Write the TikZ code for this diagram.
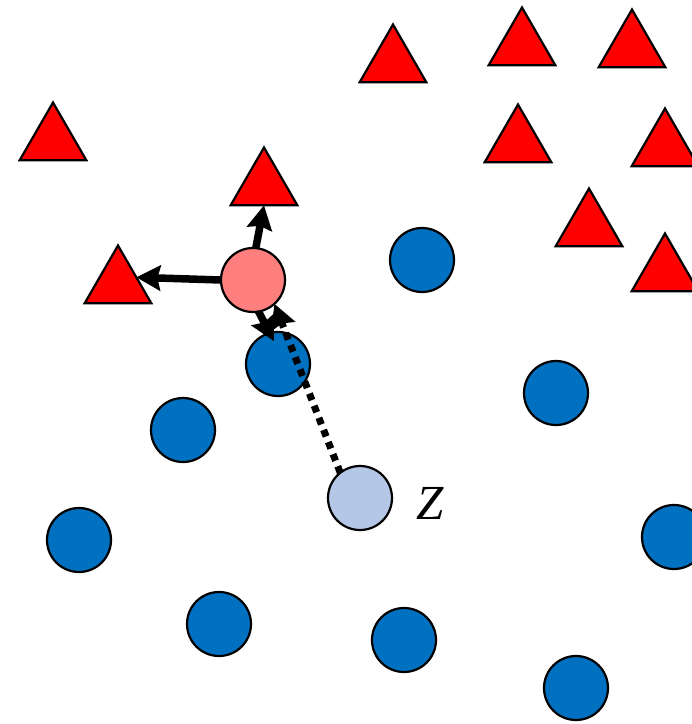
\documentclass[tikz,border=0pt]{standalone}
\usepackage{fontspec}
\newfontfamily\zfont{Liberation Serif}
\usetikzlibrary{shapes.geometric,arrows.meta}
\definecolor{tri}{HTML}{FF0000}
\definecolor{dot}{HTML}{0070C0}
\definecolor{pinkc}{HTML}{FF7F7F}
\definecolor{lightc}{HTML}{B4C7E7}
\begin{document}
\begin{tikzpicture}[x=1pt,y=-1pt,
  trinode/.style={regular polygon,regular polygon sides=3,minimum size=77pt,inner sep=0pt,outer sep=0pt,draw=black,line width=2.2pt,fill=tri},
  dotnode/.style={circle,minimum size=64pt,inner sep=0pt,outer sep=0pt,draw=black,line width=2.2pt,fill=dot},
  arr/.style={line width=7.5pt,-{Stealth[length=24pt,width=25pt,inset=3pt]}},
  dotarr/.style={line width=7pt,dash pattern=on 7pt off 6pt,-{Stealth[length=24pt,width=25pt,inset=3pt]}}]
\useasboundingbox (0,0) rectangle (692,724);
\clip (0,0) rectangle (692,724);
% triangles
\node[trinode] (t1) at (393,63) {};
\node[trinode] (t2) at (522,46) {};
\node[trinode] (t3) at (632,48) {};
\node[trinode] (t4) at (53,141) {};
\node[trinode] (t5) at (518,143) {};
\node[trinode] (t6) at (665,147) {};
\node[trinode] (t7) at (264,186) {};
\node[trinode] (t8) at (589,227) {};
\node[trinode] (t9) at (665,272) {};
\node[trinode] (t10) at (118,284) {};
% circles
\node[dotnode] (b1) at (278,364) {};
\node[dotnode] (b2) at (183,430) {};
\node[dotnode] (b3) at (422,260) {};
\node[dotnode] (b4) at (556,393) {};
\node[dotnode] (b5) at (79,540) {};
\node[dotnode] (b6) at (219,624) {};
\node[dotnode] (b7) at (404,640) {};
\node[dotnode] (b8) at (576,688) {};
\node[dotnode] (b9) at (674,537) {};
\node[dotnode,fill=pinkc] (pink) at (253,280) {};
\node[dotnode,fill=lightc] (z) at (360,498) {};
\node (zl) at (430,503) {\fontsize{49}{49}\selectfont\zfont\itshape Z};
% arrows
\draw[arr] (pink.west) -- (t10.20);
\draw[arr] (pink.85) -- (t7.south);
\draw[arr,shorten >=-9pt] (pink.-80) -- (b1.105);
\draw[dotarr] (z.128) -- (pink.-48);
\end{tikzpicture}
\end{document}
